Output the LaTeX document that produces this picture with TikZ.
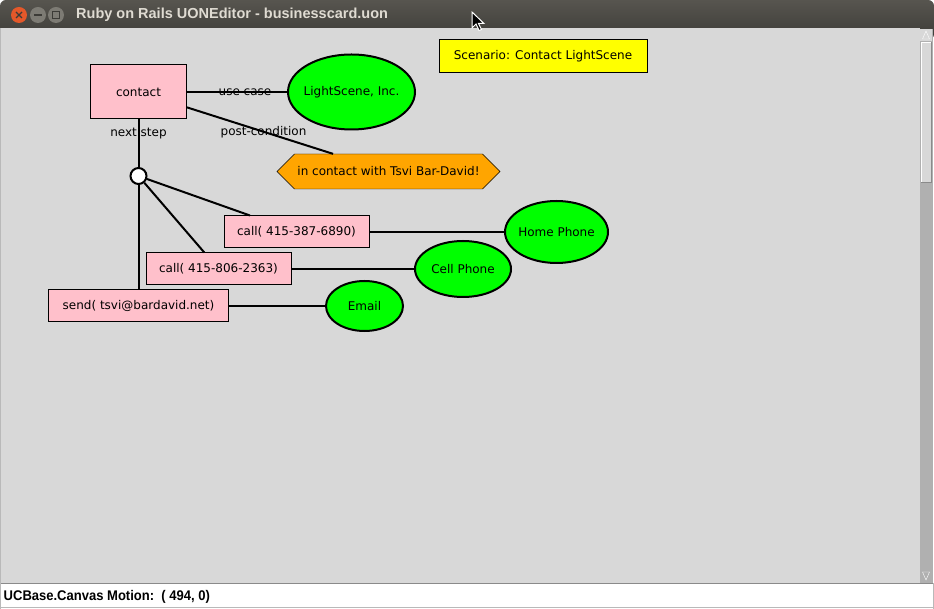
\documentclass[tikz,border=0pt]{standalone}
\usepackage{fontspec}
\setmainfont{DejaVu Sans}
\newfontfamily\barfont{Liberation Sans}
\usetikzlibrary{shapes.geometric,shapes.symbols}
\definecolor{canvas}{HTML}{D8D8D8}
\definecolor{pinkbox}{HTML}{FFC0CB}
\definecolor{greenbox}{HTML}{00FF00}
\definecolor{yellowbox}{HTML}{FFFF00}
\definecolor{orangebox}{HTML}{FFA500}
\definecolor{titletop}{HTML}{57554F}
\definecolor{titlebot}{HTML}{3C3B37}
\definecolor{titletext}{HTML}{DFDBD2}
\definecolor{closered}{HTML}{E4582A}
\definecolor{btngray}{HTML}{7D7B74}
\definecolor{track}{HTML}{B0B0B0}
\definecolor{edgegray}{HTML}{8A8A8A}
\begin{document}
\begin{tikzpicture}[x=1pt,y=-1pt,font=\fontsize{12}{14}\selectfont,
  box/.style={draw,line width=1pt,fill=pinkbox,inner sep=0pt,minimum height=32pt},
  goal/.style={ellipse,draw,line width=2pt,fill=greenbox,inner sep=0pt},
  link/.style={line width=2pt},
  lbl/.style={inner sep=0pt}]
\useasboundingbox (0,0) rectangle (934,609);
\fill[white] (0,0) rectangle (934,609);
\shade[top color=titletop,bottom color=titlebot,rounded corners=6pt] (0,0) rectangle (934,40);
\fill[canvas] (0,28) rectangle (920,583);
\draw[edgegray!60] (0.5,28) -- (0.5,583);
\fill[closered] (19,15) circle (8);
\draw[line width=1.3pt,titlebot] (16,12) -- (22,18) (22,12) -- (16,18);
\fill[btngray] (38,15) circle (8);
\draw[line width=1.5pt,titlebot] (34,15) -- (42,15);
\fill[btngray] (56,15) circle (8);
\draw[line width=1.2pt,titlebot] (52.5,11.5) rectangle (59.5,18.5);
\node[anchor=west,text=titletext,font=\barfont\bfseries\fontsize{14.5}{16}\selectfont,inner sep=0pt] (title) at (76,15) {Ruby on Rails UONEditor - businesscard.uon};
\filldraw[fill=black,draw=white,line width=1pt] (472,12) -- ++(0,16) -- ++(4,-4) -- ++(3,6.5) -- ++(2.5,-1) -- ++(-3,-6) -- ++(5.5,0) -- cycle;
\fill[track] (920,29) rectangle (933,583);
\fill[canvas] (920,29) rectangle (932,41);
\draw[white] (926,31) -- (922.5,39) -- (929.5,39) -- cycle;
\fill[canvas] (921,42) rectangle (931,182);
\draw[white] (921.5,182) -- (921.5,42.5) -- (931,42.5);
\draw[edgegray] (931.5,42) -- (931.5,182.5) -- (921,182.5);
\draw[white] (926,580) -- (922.5,572) -- (929.5,572) -- cycle;
\fill[white] (1,584) rectangle (932,607);
\draw[edgegray] (0,583.5) -- (934,583.5);
\draw[edgegray!60] (0.5,583) -- (0.5,609) (933.5,583) -- (933.5,609) (0,607.5) -- (934,607.5);
\node[anchor=west,inner sep=0pt,font=\barfont\bfseries\fontsize{14}{16}\selectfont] (status) at (3.5,596.5) {\scalebox{0.93}[1]{UCBase.Canvas Motion:\ \ ( 494, 0)}};
\node[box,minimum width=96pt,minimum height=54pt] (contact) at (138.5,92) {contact};
\node[goal,minimum width=127pt,minimum height=75pt,label=center:{LightScene, Inc.}] (lightscene) at (351.5,92) {};
\node[draw,line width=1pt,fill=yellowbox,minimum width=208pt,minimum height=33pt] (scenario) at (543,56.5) {Scenario: Contact LightScene};
\node[signal,signal to=west and east,draw,fill=orangebox,minimum width=223pt,minimum height=35pt,inner sep=0pt] (postcond) at (388.5,171.5) {in contact with Tsvi Bar-David!};
\node[circle,draw,line width=2pt,fill=white,minimum size=16pt,inner sep=0pt] (step) at (138.5,176) {};
\node[box,minimum width=145pt] (callhome) at (296.5,232) {call( 415-387-6890)};
\node[box,minimum width=145pt] (callcell) at (218.5,269) {call( 415-806-2363)};
\node[box,minimum width=180pt] (sendmail) at (138.5,306) {send( tsvi@bardavid.net)};
\node[goal,minimum width=103pt,minimum height=62pt,label=center:Home Phone] (home) at (556.5,232) {};
\node[goal,minimum width=96pt,minimum height=56pt,label=center:Cell Phone] (cell) at (463,269) {};
\node[goal,minimum width=77pt,minimum height=50pt,label=center:Email] (email) at (364.5,306) {};
\draw[link] (contact) -- (lightscene);
\draw[link] (contact) -- (postcond);
\draw[link] (contact) -- (step);
\draw[link] (step) -- (callhome);
\draw[link] (step) -- (callcell);
\draw[link] (step) -- (sendmail);
\draw[link] (callhome) -- (home);
\draw[link] (callcell) -- (cell);
\draw[link] (sendmail) -- (email);
\path (contact.center) -- node[lbl] {use case} (lightscene.center);
\path (contact.center) -- node[lbl] {post-condition} (postcond.center);
\path (contact.center) -- node[lbl] {next step} (step.center);
\end{tikzpicture}
\end{document}
